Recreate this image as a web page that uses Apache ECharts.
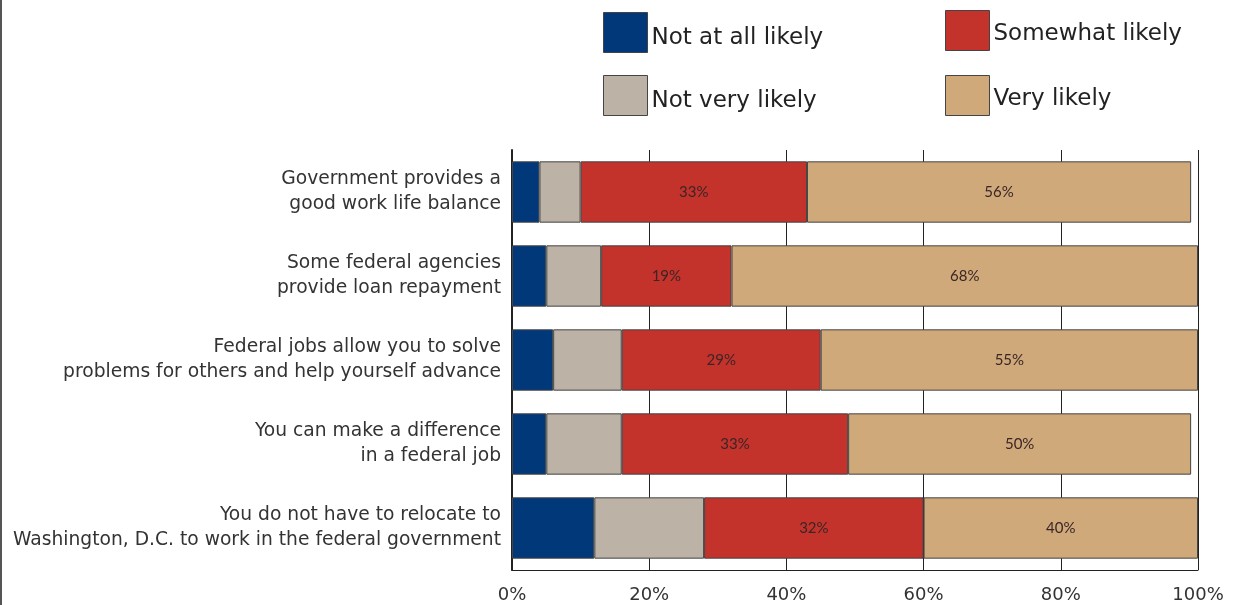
<!DOCTYPE html>
<html>
<head>
<meta charset="utf-8">
<script src="https://cdn.jsdelivr.net/npm/echarts@6/dist/echarts.min.js"></script>
<style>html,body{margin:0;padding:0;background:#fff;}#c{width:1233px;height:605px;}</style>
</head>
<body>
<div id="c"></div>
<script>
const categories = [
  'Government provides a\ngood work life balance',
  'Some federal agencies\nprovide loan repayment',
  'Federal jobs allow you to solve\nproblems for others and help yourself advance',
  'You can make a difference\nin a federal job',
  'You do not have to relocate to\nWashington, D.C. to work in the federal government'
];
const notAtAll = [4, 5, 6, 5, 12];
const notVery = [6, 8, 10, 11, 16];
const somewhat = [33, 19, 29, 33, 32];
const very = [56, 68, 55, 50, 40];
const tickLabels = ['0%', '20%', '40%', '60%', '80%', '100%'];

const seriesNames = ['Not at all likely', 'Not very likely', 'Somewhat likely', 'Very likely'];
const colors = ['#00387a', '#bcb2a6', '#c4322c', '#cfa97a'];
const values = [notAtAll, notVery, somewhat, very];
const showLabel = [false, false, true, true];

const chart = echarts.init(document.getElementById('c'));
const font = 'DejaVu Sans';
chart.setOption({
  animation: false,
  backgroundColor: '#fff',
  grid: { left: 512, right: 35, top: 150, bottom: 35, containLabel: false },
  legend: [
    { data: ['Not at all likely', 'Not very likely'], orient: 'vertical', left: 603, top: 12, padding: 0,
      itemWidth: 44, itemHeight: 40, itemGap: 22, icon: 'rect',
      itemStyle: { borderColor: '#444', borderWidth: 1 },
      formatter: '{t|{name}}',
      textStyle: { fontFamily: font, fontSize: 23, color: '#222',
        rich: { t: { fontFamily: font, fontSize: 23, color: '#222', padding: [12, 0, 0, -1] } } } },
    { data: ['Somewhat likely', 'Very likely'], orient: 'vertical', left: 945, top: 10, padding: 0,
      itemWidth: 44, itemHeight: 40, itemGap: 24, icon: 'rect',
      itemStyle: { borderColor: '#444', borderWidth: 1 },
      formatter: '{t|{name}}',
      textStyle: { fontFamily: font, fontSize: 23, color: '#222',
        rich: { t: { fontFamily: font, fontSize: 23, color: '#222', padding: [7, 0, 0, -1] } } } }
  ],
  xAxis: {
    type: 'value', min: 0, max: 100, interval: 20,
    axisLine: { show: true, lineStyle: { color: '#222', width: 1 } },
    axisTick: { show: false },
    splitLine: { show: true, lineStyle: { color: '#222', width: 1 } },
    axisLabel: { fontFamily: font, fontSize: 18, color: '#333', margin: 16,
      formatter: (v) => tickLabels[Math.round(v / 20)] }
  },
  yAxis: {
    type: 'category', data: categories, inverse: true,
    axisLine: { show: true, lineStyle: { color: '#222', width: 2 } },
    axisTick: { show: false },
    axisLabel: { fontFamily: font, fontSize: 18.7, color: '#333', lineHeight: 25, margin: 11, align: 'right',
      padding: [5, 0, 0, 0] }
  },
  graphic: [
    { type: 'line', shape: { x1: 1, y1: 0, x2: 1, y2: 605 }, style: { stroke: '#555', lineWidth: 2 } }
  ],
  series: seriesNames.map((name, i) => ({
    name, type: 'bar', stack: 'total', data: values[i],
    barCategoryGap: '27%',
    itemStyle: { color: colors[i], borderColor: '#444', borderWidth: 1 },
    label: { show: showLabel[i], position: 'inside', formatter: '{c}%',
      fontFamily: 'Liberation Sans Narrow, Lato', fontSize: 15, color: '#3a2626' }
  }))
});
</script>
</body>
</html>
